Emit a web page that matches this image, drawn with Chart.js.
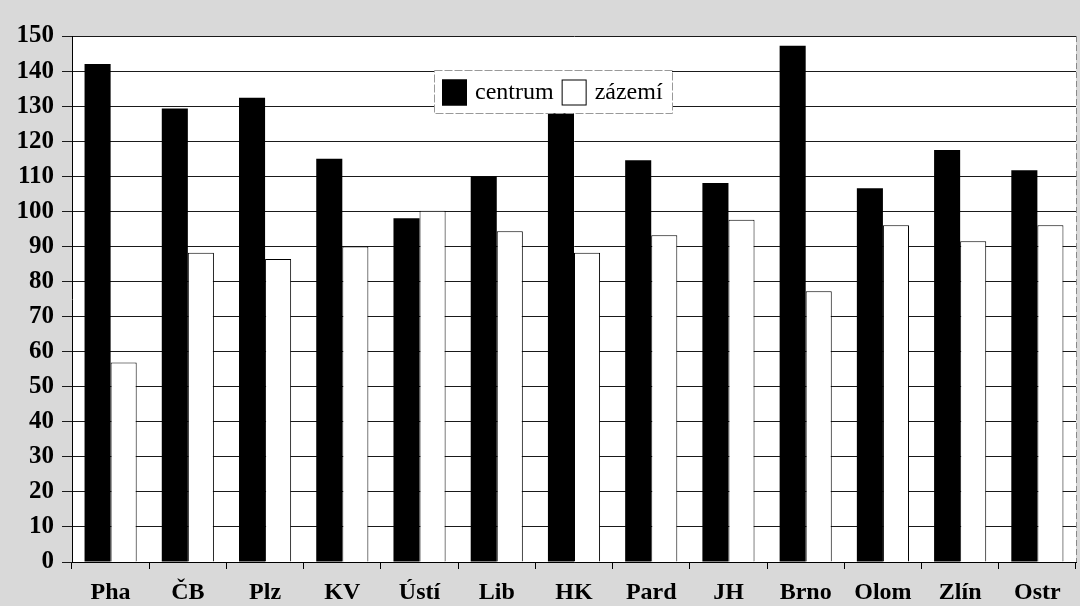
<!DOCTYPE html>
<html>
<head>
<meta charset="utf-8">
<script src="https://cdn.jsdelivr.net/npm/chart.js@4/dist/chart.umd.min.js"></script>
<style>
html,body{margin:0;padding:0;background:#d9d9d9;}
canvas{display:block;}
</style>
</head>
<body>
<canvas id="c" width="1080" height="606"></canvas>
<script>
const categories = ["Pha", "ČB", "Plz", "KV", "Ústí", "Lib", "HK", "Pard", "JH", "Brno", "Olom", "Zlín", "Ostr"];
const centrum = [142, 129.3, 132.4, 115, 98, 110, 128, 114.6, 108.1, 147.2, 106.6, 117.5, 111.7];
const zazemi = [56.9, 88.2, 86.4, 90, 100.2, 94.3, 88.2, 93.2, 97.6, 77.2, 96, 91.5, 96];
const seriesLabels = ["centrum", "zázemí"];
const yMin = 0, yMax = 150, yStep = 10;

const bgPlugin = {
  id: 'bg',
  beforeDraw(chart) {
    const {ctx, chartArea: a} = chart;
    ctx.save();
    ctx.fillStyle = '#d9d9d9';
    ctx.fillRect(0, 0, chart.width, chart.height);
    ctx.fillStyle = '#ffffff';
    ctx.fillRect(a.left, a.top, a.right - a.left, a.bottom - a.top);
    ctx.restore();
  },
  afterDatasetsDraw(chart) {
    const {ctx, chartArea: a} = chart;
    ctx.save();
    ctx.strokeStyle = '#888';
    ctx.lineWidth = 1;
    ctx.setLineDash([6, 3]);
    ctx.beginPath();
    ctx.moveTo(a.right + 0.5, a.top);
    ctx.lineTo(a.right + 0.5, a.bottom);
    ctx.stroke();
    ctx.setLineDash([]);
    const lx = a.left + 362, ly = a.top + 34, lw = 238, lh = 43;
    ctx.fillStyle = '#fff';
    ctx.fillRect(lx, ly, lw, lh);
    ctx.strokeStyle = '#999';
    ctx.setLineDash([8, 2]);
    ctx.strokeRect(lx + 0.5, ly + 0.5, lw, lh);
    ctx.setLineDash([]);
    ctx.font = '24px "Liberation Serif", serif';
    ctx.textBaseline = 'middle';
    const ds = chart.data.datasets;
    let x = lx + 8;
    const cy = ly + lh / 2 + 1;
    ds.forEach((d) => {
      ctx.fillStyle = d.backgroundColor;
      ctx.fillRect(x, cy - 13, 25, 26);
      ctx.strokeStyle = '#000';
      ctx.lineWidth = 1;
      ctx.strokeRect(x + 0.5, cy - 12.5, 24, 25);
      ctx.fillStyle = '#000';
      ctx.fillText(d.label, x + 33, cy);
      x += 33 + ctx.measureText(d.label).width + 8;
    });
    ctx.restore();
  }
};

new Chart(document.getElementById('c'), {
  type: 'bar',
  data: {
    labels: categories,
    datasets: [
      {label: seriesLabels[0], data: centrum, backgroundColor: '#000000', borderColor: '#000000', borderWidth: 0},
      {label: seriesLabels[1], data: zazemi, backgroundColor: '#ffffff', borderColor: '#000000', borderWidth: 1}
    ]
  },
  options: {
    responsive: false,
    animation: false,
    devicePixelRatio: 1,
    categoryPercentage: 0.675,
    barPercentage: 1.0,
    layout: {padding: {top: 36, right: 4, left: 0, bottom: 0}},
    plugins: {legend: {display: false}, tooltip: {enabled: false}},
    scales: {
      x: {
        afterFit(s) { s.height = 44; },
        grid: {display: true, drawOnChartArea: false, drawTicks: true, tickLength: 7, color: '#000', offset: true},
        border: {display: true, color: '#000', width: 1},
        ticks: {color: '#000', padding: 9, font: {family: '"Liberation Serif", serif', size: 24, weight: 'bold'}, maxRotation: 0, autoSkip: false}
      },
      y: {
        min: yMin, max: yMax,
        afterFit(s) { s.width = 72; },
        grid: {color: '#1a1a1a', lineWidth: 1, tickLength: 10, drawTicks: true},
        border: {display: true, color: '#000', width: 1},
        ticks: {stepSize: yStep, color: '#000', padding: 8, font: {family: '"Liberation Serif", serif', size: 25, weight: 'bold'}}
      }
    }
  },
  plugins: [bgPlugin]
});
</script>
</body>
</html>
